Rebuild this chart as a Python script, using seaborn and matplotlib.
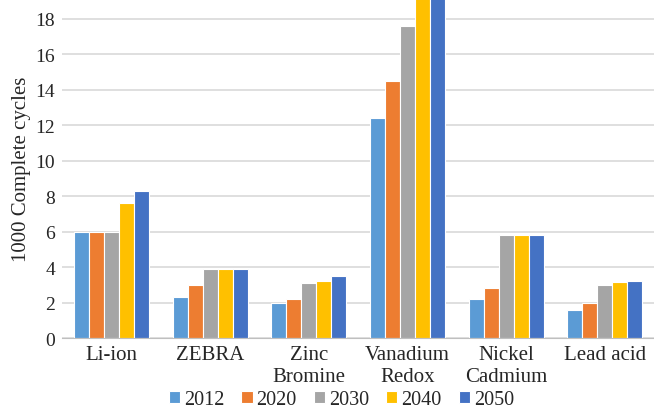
import pandas as pd
import matplotlib
matplotlib.use("Agg")
import matplotlib.pyplot as plt
import seaborn as sns

categories = ["Li-ion", "ZEBRA", "Zinc\nBromine", "Vanadium\nRedox", "Nickel\nCadmium", "Lead acid"]
years = ["2012", "2020", "2030", "2040", "2050"]
v2012 = [6.0, 2.3, 2.0, 12.4, 2.2, 1.6]
v2020 = [6.0, 3.0, 2.2, 14.5, 2.8, 2.0]
v2030 = [6.0, 3.9, 3.1, 17.6, 5.8, 3.0]
v2040 = [7.6, 3.9, 3.2, 20.0, 5.8, 3.15]
v2050 = [8.3, 3.9, 3.5, 20.0, 5.8, 3.2]
colors = ["#5B9BD5", "#ED7D31", "#A5A5A5", "#FFC000", "#4472C4"]

rows = []
for yr, vals in zip(years, [v2012, v2020, v2030, v2040, v2050]):
    for cat, v in zip(categories, vals):
        rows.append({"cat": cat, "year": yr, "val": v})
df = pd.DataFrame(rows)

sns.set_style("white")
FONT = ["Liberation Serif", "DejaVu Serif"]
plt.rcParams["font.family"] = FONT

fig = plt.figure(figsize=(6.54, 4.10), dpi=100)
ax = fig.add_axes([0.095, 0.173, 0.905, 0.827])
sns.barplot(data=df, x="cat", y="val", hue="year", palette=colors, width=0.76,
            saturation=1, edgecolor="white", linewidth=0.8, ax=ax,
            order=categories, hue_order=years)

ax.set_ylim(0, 19.1)
ax.set_yticks(range(0, 19, 2))
ax.set_xlim(-0.5, 5.5)
ax.yaxis.grid(True, color="#D9D9D9", linewidth=1.2)
ax.set_axisbelow(True)
for s in ["top", "right", "left"]:
    ax.spines[s].set_visible(False)
ax.spines["bottom"].set_color("#BFBFBF")
ax.tick_params(axis="y", labelsize=14, length=0, pad=5)
ax.tick_params(axis="x", labelsize=15, length=0, pad=5)
ax.set_xlabel("")
ax.set_ylabel("1000 Complete cycles", fontsize=15, labelpad=3)
for t in ax.get_xticklabels():
    t.set_linespacing(1.2)

ax.legend(loc="center", bbox_to_anchor=(0.522, 0.022), bbox_transform=fig.transFigure,
          ncol=5, frameon=False, fontsize=14.5, handlelength=0.55, handleheight=0.55,
          handletextpad=0.2, columnspacing=0.85, borderpad=0)

fig.savefig("out.png", dpi=100)
